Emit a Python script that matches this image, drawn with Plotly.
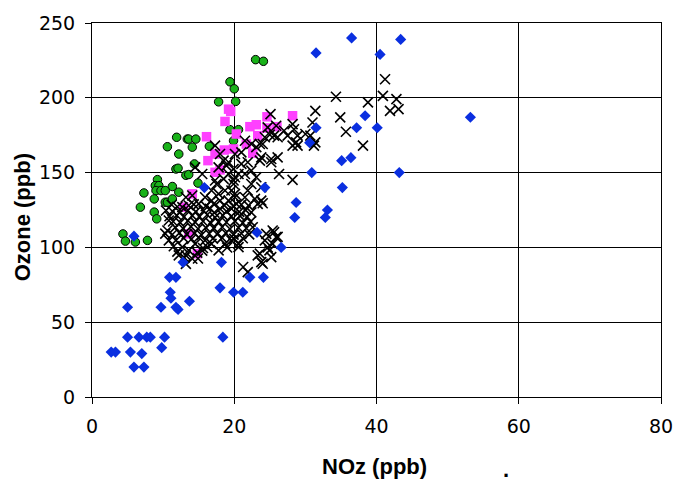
import plotly.graph_objects as go

# ---------------- data ----------------
x_ticks = [0, 20, 40, 60, 80]
y_ticks = [0, 50, 100, 150, 200, 250]

blue_x = [2.7, 3.3, 5.0, 5.0, 6.6, 5.4, 7.0, 5.9, 7.3, 7.7, 8.2, 9.7, 10.2, 9.8, 11.0, 11.1,
          11.8, 12.1, 10.9, 11.8, 13.7, 18.0, 18.4, 19.9, 21.2, 22.2, 24.1, 5.9, 15.8, 24.3,
          28.7, 28.5, 23.2, 26.6, 12.8, 18.2, 31.5, 36.5, 40.5, 43.4, 38.4, 37.2, 40.1, 53.2,
          31.5, 30.6, 35.1, 36.4, 30.9, 43.2, 35.2, 33.1, 32.8]
blue_y = [30, 30, 60, 40, 40, 30, 29, 20, 20, 40, 40, 60, 40, 33, 70, 66,
          60, 58.5, 80, 80, 64, 73, 40, 70, 70, 80, 80, 107.5, 140, 140,
          130, 120, 110, 100, 90, 90, 230, 240, 229, 239, 188, 180, 180, 187,
          180, 170, 158, 160, 150, 150, 140, 125, 120]

green_x = [23.0, 24.1, 19.4, 20.0, 17.8, 20.2, 19.4, 20.6, 19.9, 11.9, 13.4, 13.6, 14.6, 14.1,
           10.6, 16.5, 12.2, 11.8, 12.1, 14.4, 13.2, 13.6, 14.9, 9.2, 8.9, 9.4, 11.3, 9.0,
           9.7, 10.3, 12.2, 7.3, 8.75, 10.3, 10.6, 11.3, 6.8, 8.75, 9.1, 4.35, 4.7, 6.1, 7.8]
green_y = [225.5, 224.4, 210.7, 206, 197.3, 197.6, 178.7, 178.7, 171.3, 173.6, 172.4, 172.4, 172.4, 167,
           167.3, 167.6, 162.4, 152.4, 152.9, 155.8, 148.2, 148.7, 143, 145.3, 141.3, 141.3, 140.7, 138,
           138, 138, 136.9, 136.4, 132.4, 130.2, 130.2, 132.4, 126.9, 123.6, 119.1, 109, 104.2, 103.6, 104.7]

pink_x = [19.2, 19.5, 18.7, 16.1, 22.2, 23.1, 24.6, 24.6, 26.0, 28.2, 23.3, 20.3, 19.9, 18.6,
          21.7, 22.6, 17.3, 16.3, 18.0, 17.3, 14.1, 12.9, 13.6, 14.8]
pink_y = [192.4, 190.9, 184.2, 174, 180.7, 182, 187.3, 179.8, 180.7, 188, 174.7, 175.8, 165.8, 165.1,
          169.1, 162.9, 162.4, 158, 151.8, 150.2, 135.8, 126.9, 109, 95.8]

black_x = [
    41.2, 40.9, 42.8, 43.1, 41.9, 38.8, 34.3, 34.9, 31.4, 31.0, 35.7, 38.1, 28.2, 28.4, 28.9, 31.4,
    30.7, 28.2, 28.2, 31.2,
    27.0, 27.5, 30.0, 28.9, 25.0, 25.6, 24.0, 23.1, 23.8, 25.2, 26.3, 21.0, 21.9, 19.9, 20.6, 22.4,
    23.1, 23.8, 21.9, 21.5, 22.9, 23.3, 23.8, 19.9, 20.1, 20.3, 25.9, 24.7, 20.1, 21.0, 19.2,
    25.1, 26.1, 24.3, 23.6, 22.4, 21.5, 17.3, 28.7,
    20.1, 21.5, 22.4, 23.6, 25.2, 26.1, 25.4, 25.9, 24.3, 23.6, 24.95, 25.2, 24.0, 21.25, 21.9,
    23.8, 23.3, 20.6, 24.7, 25.4, 26.1, 25.6, 24.5, 24.0,
    18.0, 18.5, 14.5, 17.8, 18.9, 15.5, 17.3, 17.5, 18.5, 19.2, 19.9, 16.8, 17.8, 18.7, 19.6,
    15.9, 16.8, 18.0, 19.2, 20.1, 13.2, 14.1, 15.0, 13.6, 12.7, 16.6, 18.0, 19.6,
    10.8, 11.8, 12.7, 13.6, 14.5, 12.2, 13.2, 14.1, 17.8, 18.7, 19.6, 20.6, 16.8, 15.9, 10.4,
    10.8, 10.6, 13.2,
    11.2, 12.0, 14.3, 16.0, 17.1, 18.6, 19.9, 21.0, 22.0,
    11.3, 12.4, 13.5, 14.6, 15.7, 17.2, 18.9, 20.7, 21.6, 22.4,
    10.9, 11.9, 12.9, 14.1, 15.1, 16.2, 17.3, 18.4, 19.6, 20.8, 21.8,
    11.4, 12.4, 13.5, 14.5, 15.6, 16.7, 17.8, 18.9, 20.1, 21.2, 22.3,
    11.7, 12.8, 13.9, 14.9, 16.0, 17.1, 18.3, 19.4, 20.6, 21.7, 22.6,
    10.3, 11.3, 12.3, 13.3, 14.4, 15.4, 16.5, 17.6, 18.8, 19.9, 21.0, 22.1,
    12.9, 14.0, 15.0, 17.0, 18.3, 20.0, 21.2,
    11.5, 15.6, 16.2, 19.0,
    12.0, 14.8, 15.5,
    13.0, 14.9,
]
black_y = [
    212.4, 201.3, 199.1, 192.4, 191.3, 196.9, 200.7, 186.9, 191.3, 183.5, 177.3, 168, 182.4, 179, 174.7, 170.2,
    174.7, 145.1, 168, 168,
    178, 174.7, 175.8, 168, 175.3, 174.7, 169.1, 167, 160.2, 156.9, 149.1, 155.8, 156.9, 152.4, 149.1, 151.3,
    146.9, 140.2, 138, 133.5, 132.4, 129.1, 131.3, 142.4, 135.8, 129.1, 181.3, 180.2, 162.4, 163.5, 156.9,
    189.1, 173.6, 173.6, 169.1, 169.1, 171.3, 168, 170.2,
    146.9, 149.1, 142.4, 158, 159.1, 160.2, 111.3, 106.9, 104.7, 95.8, 98, 93.5, 89.1, 86.9, 83.5,
    90.2, 94.7, 100.2, 100, 102.4, 107, 110.2, 109, 129.5,
    162.4, 158, 153.5, 153.5, 154.7, 149.1, 144.7, 142.4, 145.8, 149.1, 144.7, 138, 135.8, 138, 138,
    133.5, 131.3, 131.3, 131.3, 133.5, 133.5, 134.7, 129.1, 128, 126.9, 125.8, 125.8, 125.8,
    104.7, 104.7, 100.2, 98, 102.4, 94.7, 94.7, 92.4, 98, 102.4, 104.7, 102.4, 102.4, 104.7, 124.7,
    118, 111.3, 89,
    128.5, 127.2, 128.8, 127.6, 129.0, 128.1, 127.4, 128.6, 127.9,
    124.2, 123.5, 124.8, 123.9, 124.5, 123.2, 124.1, 123.7, 124.9, 123.4,
    120.8, 121.5, 120.3, 121.2, 120.6, 121.8, 120.1, 121.4, 120.9, 121.1, 120.4,
    117.3, 116.6, 117.8, 116.9, 117.5, 116.2, 117.1, 116.8, 117.6, 116.4, 117.2,
    113.4, 112.7, 113.9, 112.5, 113.2, 112.9, 113.6, 112.3, 113.1, 112.8, 113.5,
    109.2, 108.6, 109.7, 108.8, 109.4, 108.3, 109.1, 108.9, 109.6, 108.5, 109.3, 108.7,
    106.2, 105.6, 106.8, 105.9, 106.4, 105.7, 106.1,
    100.8, 99.6, 100.3, 99.9,
    97.2, 96.5, 97.8,
    93.1, 92.6,
]

# ---------------- figure ----------------
fig = go.Figure()

fig.add_trace(go.Scatter(
    x=green_x, y=green_y, mode="markers",
    marker=dict(symbol="circle", size=8.5, color="#19b219",
                line=dict(color="black", width=1)),
))
fig.add_trace(go.Scatter(
    x=pink_x, y=pink_y, mode="markers",
    marker=dict(symbol="square", size=9.5, color="#ff40ff", line=dict(width=0)),
))
fig.add_trace(go.Scatter(
    x=black_x, y=black_y, mode="markers",
    marker=dict(symbol="x-thin", size=10, color="black",
                line=dict(color="black", width=1.6)),
))
fig.add_trace(go.Scatter(
    x=blue_x, y=blue_y, mode="markers",
    marker=dict(symbol="diamond", size=8.6, color="#0a2fe0", line=dict(width=0)),
))

axis_common = dict(
    showgrid=True, gridcolor="black", gridwidth=1,
    showline=True, linecolor="black", linewidth=1, mirror=True,
    zeroline=False, ticks="outside", ticklen=6, tickcolor="black",
    tickfont=dict(family="DejaVu Sans", size=19, color="black"),
)

fig.update_xaxes(range=[0, 80], tickvals=x_ticks, ticktext=[str(v) for v in x_ticks],
                 ticklabelstandoff=6, **axis_common)
fig.update_yaxes(range=[0, 250], tickvals=y_ticks, ticktext=[str(v) for v in y_ticks],
                 ticklabelstandoff=6, **axis_common)

title_font = dict(family="Liberation Sans, Arial, sans-serif", size=22, color="black")
fig.add_annotation(text="<b>Ozone (ppb)</b>", xref="paper", yref="paper",
                   x=-0.1215, y=0.48, textangle=-90, showarrow=False,
                   xanchor="center", yanchor="middle", font=title_font)
fig.add_annotation(text="<b>NOz (ppb)</b>", xref="paper", yref="paper",
                   x=0.4965, y=-0.1867, showarrow=False,
                   xanchor="center", yanchor="middle", font=title_font)
fig.add_annotation(text="<b>.</b>", xref="paper", yref="paper",
                   x=0.728, y=-0.195, showarrow=False,
                   xanchor="center", yanchor="middle", font=title_font)

fig.update_layout(
    width=685, height=485,
    margin=dict(l=92, r=17, t=22, b=88),
    paper_bgcolor="white", plot_bgcolor="white",
    showlegend=False,
)

fig.write_html("out.html")
